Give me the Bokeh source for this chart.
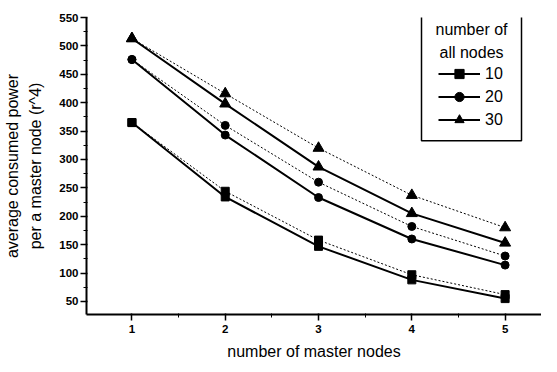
from bokeh.plotting import figure
from bokeh.models import FixedTicker, Legend, LegendItem, Range1d, BoxAnnotation, Label
from bokeh.embed import file_html
from bokeh.resources import INLINE

# ---- data ----
master_nodes = [1, 2, 3, 4, 5]
series_names = ["10", "20", "30"]
p10_solid = [365, 234, 147, 88, 55]
p10_dotted = [365, 244, 158, 97, 62]
p20_solid = [476, 343, 233, 160, 114]
p20_dotted = [476, 360, 260, 182, 130]
p30_solid = [513, 398, 287, 205, 153]
p30_dotted = [513, 416, 320, 237, 180]
x_ticks = [1, 2, 3, 4, 5]
x_minor = [1.5, 2.5, 3.5, 4.5]
y_ticks = [50, 100, 150, 200, 250, 300, 350, 400, 450, 500, 550]
y_minor = [75, 125, 175, 225, 275, 325, 375, 425, 475, 525]
legend_title_lines = ["number of", "all nodes"]

FONT = "Liberation Sans"

p = figure(width=541, height=362, output_backend="svg", toolbar_location=None,
           x_range=Range1d(0.513, 5.39), y_range=Range1d(27, 550),
           min_border_left=80, min_border_right=0, min_border_top=17,
           min_border_bottom=43)
p.outline_line_color = None
p.xgrid.visible = False
p.ygrid.visible = False
p.background_fill_color = "white"
p.border_fill_color = "white"

markers = {"10": ("square", 8), "20": ("circle", 8), "30": ("triangle", 11)}
data = {"10": (p10_solid, p10_dotted), "20": (p20_solid, p20_dotted),
        "30": (p30_solid, p30_dotted)}

items = []
for name in series_names:
    solid, dotted = data[name]
    mk, sz = markers[name]
    p.line(master_nodes, dotted, line_color="black", line_width=1, line_dash="2 2")
    p.scatter(master_nodes, dotted, marker=mk, size=sz, fill_color="black",
              line_color="black")
    l = p.line(master_nodes, solid, line_color="black", line_width=2)
    s = p.scatter(master_nodes, solid, marker=mk, size=sz, fill_color="black",
                  line_color="black")
    items.append(LegendItem(label=name, renderers=[l, s]))

for ax in (p.xaxis[0], p.yaxis[0]):
    ax.axis_line_width = 2
    ax.axis_line_color = "black"
    ax.major_tick_line_color = "black"
    ax.minor_tick_line_color = "black"
    ax.major_tick_line_width = 1.5
    ax.minor_tick_line_width = 1
    ax.major_tick_out = 6
    ax.major_tick_in = 1
    ax.minor_tick_out = 3
    ax.minor_tick_in = 1
    ax.major_label_text_font = FONT
    ax.major_label_text_font_size = "11.5px"
    ax.major_label_text_font_style = "bold"
    ax.major_label_text_color = "black"
    ax.axis_label_text_font = FONT
    ax.axis_label_text_font_size = "16px"
    ax.axis_label_text_font_style = "normal"
    ax.axis_label_text_color = "black"

p.xaxis[0].ticker = FixedTicker(ticks=x_ticks, minor_ticks=x_minor)
p.yaxis[0].ticker = FixedTicker(ticks=y_ticks, minor_ticks=y_minor)
p.xaxis[0].axis_label = "number of master nodes"
p.yaxis[0].axis_label = "average consumed power\nper a master node (r^4)"
p.yaxis[0].axis_label_text_line_height = 1.4
p.xaxis[0].major_label_standoff = 4
p.xaxis[0].axis_label_standoff = 7
p.yaxis[0].major_label_standoff = 2
p.yaxis[0].axis_label_standoff = 12

# legend frame (screen units, relative to the plot frame)
box = BoxAnnotation(left=335, right=435, top=313.7, bottom=173.7,
                    left_units="screen", right_units="screen",
                    top_units="screen", bottom_units="screen",
                    fill_color="white", fill_alpha=1,
                    line_color="black", line_alpha=1, line_width=1.5)
p.add_layout(box)

for txt, yy in zip(legend_title_lines, [285.5, 262.5]):
    p.add_layout(Label(x=385, y=yy, x_units="screen", y_units="screen", text=txt,
                       text_align="center", text_baseline="middle",
                       text_font=FONT, text_font_size="16px", text_color="black"))

legend = Legend(items=items, location=(348, 179))
legend.label_text_font = FONT
legend.label_text_font_size = "16px"
legend.label_text_color = "black"
legend.label_text_baseline = "middle"
legend.glyph_width = 42
legend.glyph_height = 23
legend.label_height = 23
legend.label_standoff = 5
legend.spacing = 0
legend.padding = 4
legend.margin = 0
legend.border_line_alpha = 0
legend.background_fill_alpha = 0
p.add_layout(legend, "center")

open("out.html", "w").write(file_html(p, INLINE))
